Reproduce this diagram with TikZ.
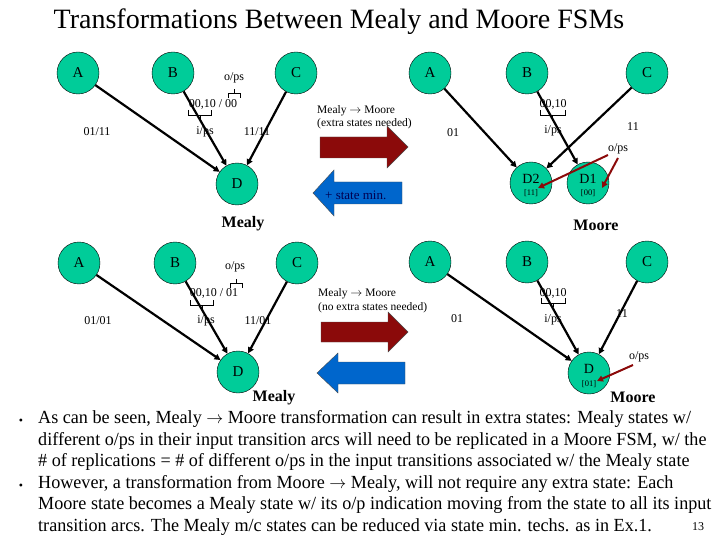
\documentclass[tikz,border=0pt]{standalone}
\usepackage{fontspec}
\setmainfont{Liberation Serif}
\usetikzlibrary{arrows.meta}
\definecolor{stategreen}{RGB}{0,204,153}
\definecolor{darkred}{RGB}{139,10,10}
\definecolor{arrowblue}{RGB}{0,102,204}
\definecolor{navy}{RGB}{0,0,80}
\tikzset{
  st/.style={circle,draw=black,thin,fill=stategreen,minimum size=42pt,inner sep=0pt,font=\fontsize{15}{15}\selectfont},
  edge/.style={line width=2.2pt,-{Triangle[length=6pt,width=6pt]}},
  lbl/.style={inner sep=0pt,font=\fontsize{12}{12}\selectfont},
  small/.style={inner sep=0pt,font=\fontsize{8.5}{9}\selectfont},
  ttl/.style={inner sep=0pt,font=\fontsize{16}{16}\selectfont\bfseries},
  brk/.style={line width=0.6pt},
  opsarrow/.style={darkred,line width=2pt,-{Triangle[length=6pt,width=6pt]}},
  redblock/.style={fill=darkred,draw=black!70,line width=0.4pt},
  blueblock/.style={fill=arrowblue,draw=black!70,line width=0.4pt},
  bul/.style={anchor=base west,inner sep=0pt,font=\fontsize{18.5}{18.5}\selectfont}
}
\newcommand{\sqz}[1]{\scalebox{0.98}[1]{#1}}
\begin{document}
\begin{tikzpicture}[x=1pt,y=-1pt]
\useasboundingbox (0,0) rectangle (720,540);
% title
\node[inner sep=0pt,font=\fontsize{28}{28}\selectfont] (title) at (339,22) {Transformations Between Mealy and Moore FSMs};

% ===== top Mealy =====
\node[st] (mA1) at (78,73) {A};
\node[st] (mB1) at (173,73) {B};
\node[st] (mC1) at (296,73) {C};
\node[st] (mD1) at (237,184) {D};
\draw[edge] (mA1) -- (mD1);
\draw[edge] (mB1) -- (mD1);
\draw[edge] (mC1) -- (mD1);
\node[lbl] (l1a) at (97,132) {01/11};
\node[lbl] (l1b) at (213,104) {00,10 / 00};
\node[lbl] (l1c) at (205,132) {i/ps};
\node[lbl] (l1d) at (257,132) {11/11};
\node[lbl] (l1e) at (234,78) {o/ps};
\draw[brk] (188,110) -- (188,115) -- (211,115) -- (211,110) (200,115) -- (200,120);
\draw[brk] (228,98) -- (228,93) -- (240,93) -- (240,98) (234,93) -- (234,89);
\node[ttl] (mealy1) at (243,224) {Mealy};

% ===== top middle =====
\node[inner sep=0pt,anchor=west,font=\fontsize{11.5}{12}\selectfont] (t1) at (317,111) {Mealy $\rightarrow$ Moore};
\node[inner sep=0pt,anchor=west,font=\fontsize{11.5}{12}\selectfont] (t2) at (317,124) {(extra states needed)};
\draw[redblock] (320,137) -- (387,137) -- (387,126) -- (408,147) -- (387,168) -- (387,158) -- (320,158) -- cycle;
\draw[blueblock] (313,193) -- (334,170) -- (334,182) -- (402,182) -- (402,204) -- (334,204) -- (334,216) -- cycle;
\node[inner sep=0pt,anchor=base west,text=navy,font=\fontsize{13}{13}\selectfont] (sm) at (325,200) {+ state min.};

% ===== top Moore =====
\node[st] (oA1) at (430,73) {A};
\node[st] (oB1) at (527,73) {B};
\node[st] (oC1) at (647,73) {C};
\node[st] (oD2) at (531,183) {};
\node[st] (oD1) at (588,183) {};
\node[inner sep=0pt,font=\fontsize{14}{14}\selectfont] (d2t) at (531,179) {D2};
\node[small] (d2o) at (531,193) {[11]};
\node[inner sep=0pt,font=\fontsize{14}{14}\selectfont] (d1t) at (588,179) {D1};
\node[small] (d1o) at (588,193) {[00]};
\draw[edge] (oA1) -- (oD2);
\draw[edge] (oB1) -- (oD1);
\draw[edge] (oC1) -- (oD2);
\node[lbl] (l2a) at (453,133) {01};
\node[lbl] (l2b) at (553,104) {00,10};
\node[lbl] (l2c) at (553,131) {i/ps};
\node[lbl] (l2d) at (633,127) {11};
\draw[brk] (540,110) -- (540,115) -- (565,115) -- (565,110) (552,115) -- (552,120);
\node[lbl] (ops2) at (618,149) {o/ps};
\coordinate (p2a) at (538,188);
\coordinate (p2b) at (602,188);
\draw[opsarrow] (608,155) -- (p2a);
\draw[opsarrow] (618,158) -- (p2b);
\node[ttl] (moore1) at (596,225) {Moore};

% ===== bottom Mealy =====
\node[st] (mA2) at (79,263) {A};
\node[st] (mB2) at (175,263) {B};
\node[st] (mC2) at (297,263) {C};
\node[st] (mD2) at (238,372) {D};
\draw[edge] (mA2) -- (mD2);
\draw[edge] (mB2) -- (mD2);
\draw[edge] (mC2) -- (mD2);
\node[lbl] (l3a) at (98,321) {01/01};
\node[lbl] (l3b) at (214,293) {00,10 / 01};
\node[lbl] (l3c) at (206,321) {i/ps};
\node[lbl] (l3d) at (258,321) {11/01};
\node[lbl] (l3e) at (235,267) {o/ps};
\draw[brk] (190,300) -- (190,305) -- (213,305) -- (213,300) (202,305) -- (202,310);
\draw[brk] (230,288) -- (230,283) -- (242,283) -- (242,288) (236,283) -- (236,279);
\node[ttl] (mealy2) at (274,398) {Mealy};

% ===== bottom middle =====
\node[inner sep=0pt,anchor=west,font=\fontsize{11.5}{12}\selectfont] (t3) at (318,294) {Mealy $\rightarrow$ Moore};
\node[inner sep=0pt,anchor=west,font=\fontsize{11.5}{12}\selectfont] (t4) at (318,308) {(no extra states needed)};
\draw[redblock] (321,322) -- (388,322) -- (388,312) -- (408,332) -- (388,352) -- (388,342) -- (321,342) -- cycle;
\draw[blueblock] (317,373) -- (338,353) -- (338,362) -- (405,362) -- (405,384) -- (338,384) -- (338,393) -- cycle;

% ===== bottom Moore =====
\node[st] (oA2) at (430,262) {A};
\node[st] (oB2) at (527,262) {B};
\node[st] (oC2) at (647,262) {C};
\node[st] (oD) at (589,373) {};
\node[inner sep=0pt,font=\fontsize{14}{14}\selectfont] (dt) at (589,369) {D};
\node[small] (do) at (589,384) {[01]};
\draw[edge] (oA2) -- (oD);
\draw[edge] (oB2) -- (oD);
\draw[edge] (oC2) -- (oD);
\node[lbl] (l4a) at (457,319) {01};
\node[lbl] (l4b) at (553,293) {00,10};
\node[lbl] (l4c) at (553,320) {i/ps};
\node[lbl] (l4d) at (622,314) {11};
\draw[brk] (541,298) -- (541,303) -- (565,303) -- (565,298) (553,303) -- (553,307);
\node[lbl] (ops4) at (639,357) {o/ps};
\coordinate (p4) at (597,381);
\draw[opsarrow] (633,365) -- (p4);
\node[ttl] (moore2) at (633,397) {Moore};

% ===== bullets =====
\node[inner sep=0pt,font=\fontsize{12}{12}\selectfont] (b1) at (21,422) {\textbullet};
\node[inner sep=0pt,font=\fontsize{12}{12}\selectfont] (b2) at (21,487) {\textbullet};
\node[bul] (s1) at (38,423) {\sqz{As can be seen, Mealy $\rightarrow$ Moore transformation can result in extra states: Mealy states w/}};
\node[bul] (s2) at (38,445) {\sqz{different o/ps in their input transition arcs will need to be replicated in a Moore FSM, w/ the}};
\node[bul] (s3) at (38,466) {\sqz{\# of replications = \# of different o/ps in the input transitions associated w/ the Mealy state}};
\node[bul] (s4) at (38,488) {\sqz{However, a transformation from Moore $\rightarrow$ Mealy, will not require any extra state: Each}};
\node[bul] (s5) at (38,509) {\sqz{Moore state becomes a Mealy state w/ its o/p indication moving from the state to all its input}};
\node[bul] (s6) at (38,531) {\sqz{transition arcs. The Mealy m/c states can be reduced via state min. techs. as in Ex.1.}};
\node[inner sep=0pt,anchor=base,font=\fontsize{12}{12}\selectfont] (pg) at (698,530) {13};
\end{tikzpicture}
\end{document}
